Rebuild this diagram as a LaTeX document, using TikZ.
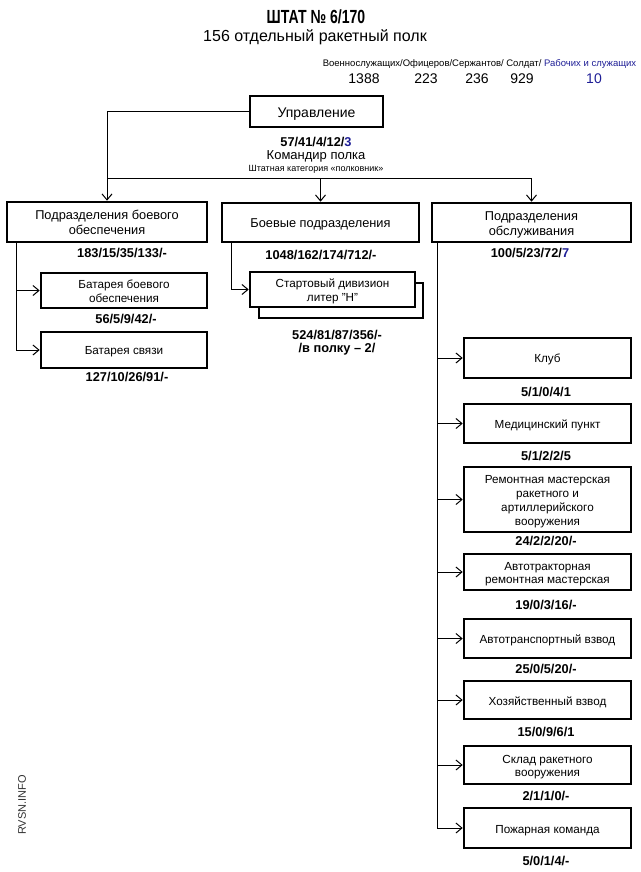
\documentclass[tikz,border=0pt]{standalone}
\usepackage{fontspec}
\setmainfont{Liberation Sans}
\usetikzlibrary{arrows.meta}
\definecolor{navy}{RGB}{30,30,150}
\newcommand\bt[1]{\begin{tabular}{@{}c@{}}\rule{0pt}{1.2em}#1\end{tabular}}
\begin{document}
\begin{tikzpicture}[x=1pt,y=-1pt,
  box/.style={draw,line width=2.6pt,fill=white,inner sep=0pt,font=\fontsize{12.8}{15}\selectfont},
  sbox/.style={box,font=\fontsize{11.7}{13.5}\selectfont},
  rbox/.style={sbox,minimum width=167pt},
  num/.style={font=\bfseries\fontsize{12.8}{14}\selectfont,inner sep=0pt},
  txt/.style={inner sep=0pt,align=center},
  conn/.style={line width=1pt},
  arr/.style={conn,-{Straight Barb[length=6pt,width=10pt,line width=1pt]}},
]
\useasboundingbox (0,0) rectangle (640,872);

% title
\node[txt] (title) at (316,17) {\scalebox{0.74}[1]{\bfseries\fontsize{19}{20}\selectfont ШТАТ № 6/170}};
\node[txt,font=\fontsize{16}{18}\selectfont] (sub) at (315,37) {156 отдельный ракетный полк};
\node[txt,font=\fontsize{9.5}{11}\selectfont] (hdr) at (479.5,64) {Военнослужащих/Офицеров/Сержантов/ Солдат/ \textcolor{navy}{Рабочих и служащих}};
\node[txt,font=\fontsize{14}{16}\selectfont] (n1) at (364,79) {1388};
\node[txt,font=\fontsize{14}{16}\selectfont] (n2) at (426,79) {223};
\node[txt,font=\fontsize{14}{16}\selectfont] (n3) at (477,79) {236};
\node[txt,font=\fontsize{14}{16}\selectfont] (n4) at (522,79) {929};
\node[txt,font=\fontsize{14}{16}\selectfont,text=navy] (n5) at (594,79) {10};

% Управление
\node[box,minimum width=133pt,minimum height=31pt,font=\fontsize{14}{15}\selectfont] (upr) at (316.5,111.5) {\bt{Управление}};
\node[num] (uprl) at (316,142) {57/41/4/12/\textcolor{navy}{3}};
\node[txt,font=\fontsize{13}{15}\selectfont] (kom) at (316,156) {Командир полка};
\node[txt,font=\fontsize{9}{11}\selectfont] (kat) at (316,169) {Штатная категория «полковник»};

% level 1
\node[box,minimum width=200pt,minimum height=40pt] (pbo) at (107,222) {\bt{Подразделения боевого\\обеспечения}};
\node[num] (pbol) at (122,253) {183/15/35/133/-};
\node[box,minimum width=197pt,minimum height=39pt] (bp) at (320.5,222.5) {\bt{Боевые подразделения}};
\node[num] (bpl) at (321,255) {1048/162/174/712/-};
\node[box,minimum width=199pt,minimum height=39pt] (po) at (531.5,222.5) {\bt{Подразделения\\обслуживания}};
\node[num] (pol) at (530,253) {100/5/23/72/\textcolor{navy}{7}};

% left column
\node[sbox,minimum width=166pt,minimum height=35pt] (bat1) at (124,290.5) {\bt{Батарея боевого\\обеспечения}};
\node[num] (bat1l) at (126,319) {56/5/9/42/-};
\node[sbox,minimum width=166pt,minimum height=36pt] (bat2) at (124,350) {\bt{Батарея связи}};
\node[num] (bat2l) at (127,377) {127/10/26/91/-};

% middle column
\node[sbox,minimum width=164pt,minimum height=35pt] (sdb) at (341,300.5) {};
\node[sbox,minimum width=165pt,minimum height=35pt] (sd) at (332.5,289.5) {\bt{Стартовый дивизион\\литер "Н"}};
\node[num] (sdl1) at (337,335) {524/81/87/356/-};
\node[num] (sdl2) at (337,349) {/в полку – 2/};

% right column
\node[rbox,minimum height=40pt] (klub) at (547.5,358) {\bt{Клуб}};
\node[num] (klubl) at (546,392) {5/1/0/4/1};
\node[rbox,minimum height=39pt] (med) at (547.5,423.5) {\bt{Медицинский пункт}};
\node[num] (medl) at (546,456) {5/1/2/2/5};
\node[rbox,minimum height=65pt,font=\fontsize{11.7}{14}\selectfont] (rem) at (547.5,499.5) {\bt{Ремонтная мастерская\\ракетного и\\артиллерийского\\вооружения}};
\node[num] (reml) at (546,541) {24/2/2/20/-};
\node[rbox,minimum height=36pt] (atm) at (547.5,572) {\bt{Автотракторная\\ремонтная мастерская}};
\node[num] (atml) at (546,605) {19/0/3/16/-};
\node[rbox,minimum height=39pt] (atv) at (547.5,638.5) {\bt{Автотранспортный взвод}};
\node[num] (atvl) at (546,669) {25/0/5/20/-};
\node[rbox,minimum height=38pt] (hoz) at (547.5,700) {\bt{Хозяйственный взвод}};
\node[num] (hozl) at (546,732) {15/0/9/6/1};
\node[rbox,minimum height=38pt] (skl) at (547.5,765) {\bt{Склад ракетного\\вооружения}};
\node[num] (skll) at (546,796) {2/1/1/0/-};
\node[rbox,minimum height=40pt] (poz) at (547.5,828) {\bt{Пожарная команда}};
\node[num] (pozl) at (546,861) {5/0/1/4/-};

% watermark
\node[txt,rotate=90,font=\fontsize{11}{13}\selectfont,text=black!80] (wm) at (22,805) {RVSN.INFO};

% connectors
\coordinate (hj) at (pbo.north |- 0,178);
\draw[arr] (upr.west) -| (pbo.north);
\draw[arr] (hj) -| (po.north);
\draw[arr] (bp.north |- hj) -- (bp.north);

\coordinate (lv) at (16,242);
\draw[arr] (lv) |- (bat1.west);
\draw[arr] (lv) |- (bat2.west);

\coordinate (mv) at (231,242);
\draw[arr] (mv) |- (sd.west);

\coordinate (rv) at (437,242);
\foreach \n in {klub,med,rem,atm,atv,hoz,skl,poz}
  \draw[arr] (rv) |- (\n.west);
\end{tikzpicture}
\end{document}
